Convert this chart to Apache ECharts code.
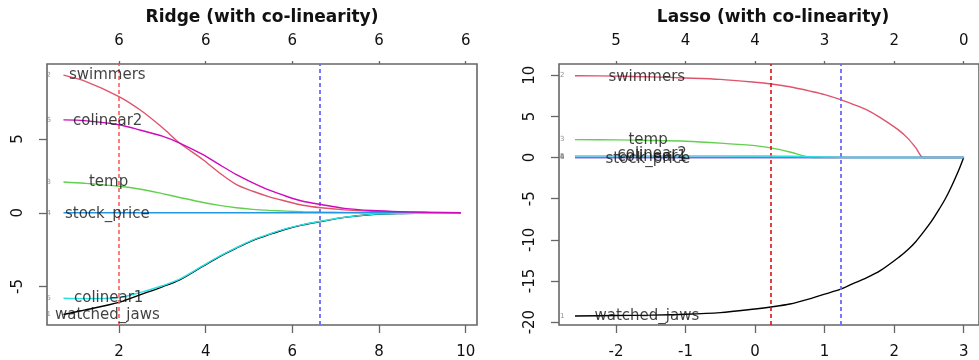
<!DOCTYPE html>
<html>
<head>
<meta charset="utf-8">
<script src="https://cdn.jsdelivr.net/npm/echarts@6/dist/echarts.min.js"></script>
<style>
html,body{margin:0;padding:0;background:#fff;}
#chart{width:979px;height:360px;}
</style>
</head>
<body>
<div id="chart"></div>
<script>
// ---------- Data ----------
const ridgeTitle = 'Ridge (with co-linearity)';
const lassoTitle = 'Lasso (with co-linearity)';

const varNames = ['watched_jaws', 'swimmers', 'temp', 'stock_price', 'colinear1', 'colinear2'];
const varIndex = ['1', '2', '3', '4', '5', '6'];

// Ridge: x = log(lambda)
const ridgeX = [0.72, 1.2, 2.0, 2.5, 3.0, 3.4, 3.94, 4.32, 4.71, 5.09, 5.47, 5.86, 6.24, 6.66, 7.2, 7.84, 8.5, 9.2, 9.89];
const ridgeWatchedJaws = [-6.9, -6.6, -6.08, -5.55, -5.02, -4.55, -3.62, -2.97, -2.39, -1.87, -1.47, -1.1, -0.82, -0.59, -0.31, -0.12, -0.05, -0.02, 0];
const ridgeSwimmers   = [9.34, 8.95, 7.88, 6.95, 5.78, 4.73, 3.6, 2.7, 1.91, 1.46, 1.08, 0.78, 0.51, 0.34, 0.2, 0.1, 0.05, 0.02, 0];
const ridgeTemp       = [2.09, 2.0, 1.8, 1.6, 1.3, 1.04, 0.7, 0.5, 0.34, 0.23, 0.16, 0.11, 0.07, 0.05, 0.03, 0.01, 0, 0, 0];
const ridgeStock      = [0, 0, 0, 0, 0, 0, 0, 0, 0, 0, 0, 0, 0, 0, 0, 0, 0, 0, 0];
const ridgeColinear1  = [-5.8, -5.82, -5.75, -5.4, -4.95, -4.5, -3.58, -2.94, -2.36, -1.84, -1.44, -1.07, -0.8, -0.57, -0.3, -0.11, -0.05, -0.02, 0];
const ridgeColinear2  = [6.3, 6.25, 5.97, 5.6, 5.2, 4.73, 3.94, 3.26, 2.59, 2.03, 1.53, 1.12, 0.78, 0.56, 0.3, 0.15, 0.07, 0.03, 0];
const ridgeLambdaMin = 2.0;
const ridgeLambda1se = 6.64;
const ridgeTicks = [2, 4, 6, 8, 10];
const ridgeTopLabels = ['6', '6', '6', '6', '6'];
const ridgeYTicks = [-5, 0, 5];

// Lasso: x = log(lambda)
const lassoX = [-2.59, -2.0, -1.5, -1.0, -0.5, 0.0, 0.23, 0.5, 0.83, 1.0, 1.23, 1.4, 1.6, 1.8, 2.07, 2.2, 2.31, 2.42, 2.54, 2.66, 2.73, 2.8, 2.87, 2.94, 3.0];
const lassoWatchedJaws = [-19.25, -19.2, -19.15, -19.05, -18.84, -18.4, -18.16, -17.8, -17.05, -16.6, -16.0, -15.35, -14.63, -13.75, -12.1, -11.18, -10.23, -9.07, -7.7, -6.1, -5.1, -3.95, -2.67, -1.3, 0];
const lassoSwimmers   = [9.95, 9.9, 9.8, 9.67, 9.5, 9.15, 8.94, 8.6, 8.0, 7.65, 7.04, 6.5, 5.82, 4.85, 3.3, 2.3, 1.2, 0, 0, 0, 0, 0, 0, 0, 0];
const lassoTemp       = [2.18, 2.15, 2.08, 1.98, 1.75, 1.45, 1.17, 0.68, 0, 0, 0, 0, 0, 0, 0, 0, 0, 0, 0, 0, 0, 0, 0, 0, 0];
const lassoStock      = [0, 0, 0, 0, 0, 0, 0, 0, 0, 0, 0, 0, 0, 0, 0, 0, 0, 0, 0, 0, 0, 0, 0, 0, 0];
const lassoColinear1  = [0.2, 0.2, 0.2, 0.2, 0.2, 0.19, 0.18, 0.15, 0.1, 0.07, 0.03, 0, 0, 0, 0, 0, 0, 0, 0, 0, 0, 0, 0, 0, 0];
const lassoColinear2  = [0, 0, 0, 0, 0, 0, 0, 0, 0, 0, 0, 0, 0, 0, 0, 0, 0, 0, 0, 0, 0, 0, 0, 0, 0];
const lassoLambdaMin = 0.23;
const lassoLambda1se = 1.23;
const lassoTicks = [-2, -1, 0, 1, 2, 3];
const lassoTopLabels = ['5', '4', '4', '3', '2', '0'];
const lassoYTicks = [-20, -15, -10, -5, 0, 5, 10];

// ---------- Styles ----------
const colors = ['#000000', '#DF536B', '#61D04F', '#2297E6', '#28E2E5', '#CD0BBC'];
const FONT = 'DejaVu Sans';
const textColor = '#111';
const boxColor = '#666';
// label offsets (px) relative to the first point of each curve
const ridgeLabelOffset = [[-9, 1], [5, 0], [25, 0], [1, 1], [10, 0], [9, 1]];
const lassoLabelOffset = [[19, 0], [33, 1], [53, 0], [30, 2], [42, 1], [42, -3]];

const ridgeSeriesVals = [ridgeWatchedJaws, ridgeSwimmers, ridgeTemp, ridgeStock, ridgeColinear1, ridgeColinear2];
const lassoSeriesVals = [lassoWatchedJaws, lassoSwimmers, lassoTemp, lassoStock, lassoColinear1, lassoColinear2];

function pairs(xs, ys) { return xs.map((x, i) => [x, ys[i]]); }

function buildPanel(idx, xs, vals, order, lamMin, lam1se, redColor, labelOffsets, idxDist) {
  const series = [];
  order.forEach((k, n) => {
    const s = {
      type: 'line',
      xAxisIndex: idx * 2, yAxisIndex: idx,
      data: pairs(xs, vals[k]),
      showSymbol: false,
      symbol: 'none',
      smooth: 0.3,
      lineStyle: { color: colors[k], width: 1.4 },
      itemStyle: { color: colors[k] },
      z: 2 + n,
      animation: false,
      silent: true
    };
    if (n === 0) {
      s.markLine = {
        symbol: 'none', silent: true, animation: false,
        label: { show: false },
        data: [
          { xAxis: lamMin, lineStyle: { color: redColor, type: [4, 3], width: 1.6 } },
          { xAxis: lam1se, lineStyle: { color: '#6a6aff', type: [4, 3], width: 1.8 } }
        ]
      };
    }
    series.push(s);
  });
  // variable name labels at curve starts (one scatter per label)
  varNames.forEach((nm, k) => {
    series.push({
      type: 'scatter',
      xAxisIndex: idx * 2, yAxisIndex: idx,
      symbolSize: 1,
      itemStyle: { color: 'rgba(0,0,0,0)' },
      z: 20, silent: true, animation: false,
      data: [{ value: [xs[0], vals[k][0]], name: nm }],
      label: {
        show: true, position: 'right', distance: 0,
        offset: labelOffsets[k],
        formatter: p => p.name,
        fontFamily: FONT, fontSize: 15, color: textColor
      }
    });
  });
  // small variable index numbers
  series.push({
    type: 'scatter',
    xAxisIndex: idx * 2, yAxisIndex: idx,
    symbolSize: 1,
    itemStyle: { color: 'rgba(0,0,0,0)' },
    z: 20, silent: true, animation: false,
    data: varIndex.map((t, k) => ({ value: [xs[0], vals[k][0]], name: t })),
    label: {
      show: true, position: 'left', distance: idxDist,
      formatter: p => p.name,
      fontFamily: FONT, fontSize: 7, color: '#777'
    },
    labelLayout: { hideOverlap: false }
  });
  return series;
}

const axisLabelStyle = { fontFamily: FONT, fontSize: 15, color: textColor };
const tickStyle = { color: boxColor, width: 1.3 };

function xAxes(gridIndex, min, max, ticks, topLabels) {
  return [
    {
      gridIndex, type: 'value', position: 'bottom', min, max,
      axisLine: { show: false, onZero: false }, splitLine: { show: false },
      axisTick: { show: true, customValues: ticks, length: 8, lineStyle: tickStyle },
      axisLabel: Object.assign({ customValues: ticks, margin: 20 }, axisLabelStyle)
    },
    {
      gridIndex, type: 'value', position: 'top', min, max,
      axisLine: { show: false, onZero: false }, splitLine: { show: false },
      axisTick: { show: true, customValues: ticks, length: 3, lineStyle: tickStyle },
      axisLabel: Object.assign({
        customValues: ticks, margin: 15,
        formatter: v => { const i = ticks.indexOf(v); return i >= 0 ? topLabels[i] : ''; }
      }, axisLabelStyle)
    }
  ];
}

function yAxis(gridIndex, min, max, ticks) {
  return {
    gridIndex, type: 'value', min, max, position: 'left',
    axisLine: { show: false, onZero: false }, splitLine: { show: false },
    axisTick: { show: true, customValues: ticks, length: 8, lineStyle: tickStyle },
    axisLabel: Object.assign({ customValues: ticks, rotate: 90, margin: 21 }, axisLabelStyle)
  };
}

const chart = echarts.init(document.getElementById('chart'), null, { renderer: 'canvas' });

const option = {
  animation: false,
  backgroundColor: '#fff',
  graphic: [
    { type: 'text', x: 262, y: 18, style: { text: ridgeTitle, font: 'bold 17px "DejaVu Sans"', fill: '#111', align: 'center', verticalAlign: 'middle' } },
    { type: 'text', x: 773, y: 18, style: { text: lassoTitle, font: 'bold 17px "DejaVu Sans"', fill: '#111', align: 'center', verticalAlign: 'middle' } }
  ],
  grid: [
    { left: 47, top: 64, width: 430, height: 262, show: true, borderColor: boxColor, borderWidth: 1.6, backgroundColor: 'transparent', containLabel: false },
    { left: 559, top: 64, width: 429, height: 262, show: true, borderColor: boxColor, borderWidth: 1.6, backgroundColor: 'transparent', containLabel: false }
  ],
  xAxis: [].concat(
    xAxes(0, 0.34, 10.26, ridgeTicks, ridgeTopLabels),
    xAxes(1, -2.82, 3.22, lassoTicks, lassoTopLabels)
  ),
  yAxis: [
    yAxis(0, -7.61, 10.09, ridgeYTicks),
    yAxis(1, -20.35, 11.37, lassoYTicks)
  ],
  series: [].concat(
    buildPanel(0, ridgeX, ridgeSeriesVals, [0, 1, 2, 3, 4, 5], ridgeLambdaMin, ridgeLambda1se, '#ff5c5c', ridgeLabelOffset, 12),
    buildPanel(1, lassoX, lassoSeriesVals, [0, 1, 2, 5, 3, 4], lassoLambdaMin, lassoLambda1se, '#e01010', lassoLabelOffset, 10)
  )
};
chart.setOption(option);
</script>
</body>
</html>
